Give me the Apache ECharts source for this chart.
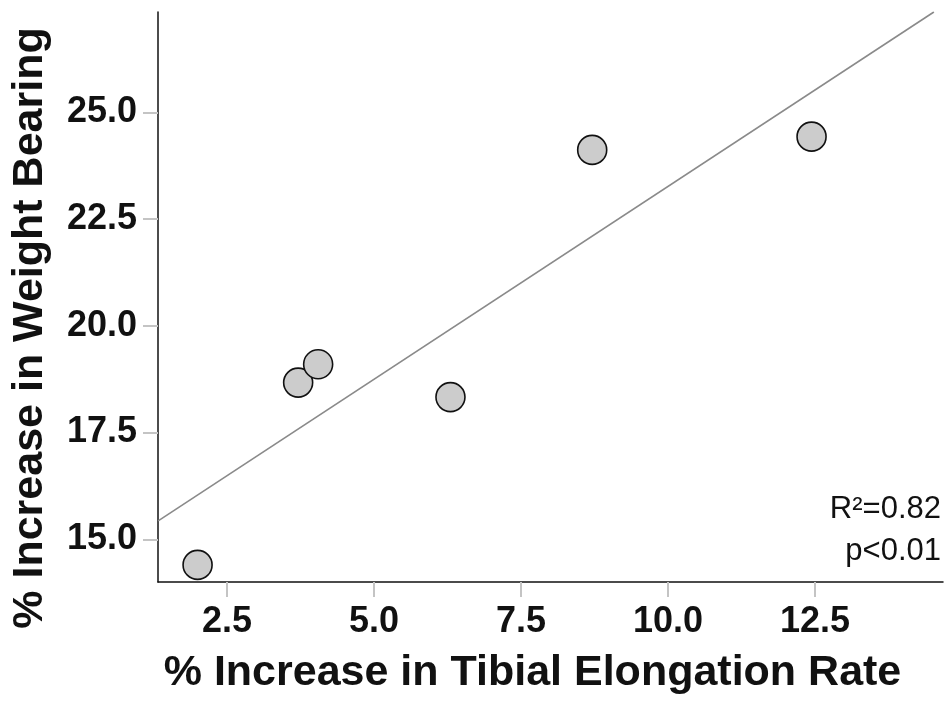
<!DOCTYPE html>
<html>
<head>
<meta charset="utf-8">
<script src="https://cdn.jsdelivr.net/npm/echarts@6/dist/echarts.min.js"></script>
<style>
html,body{margin:0;padding:0;background:#fff;}
#chart{width:947px;height:702px;}
</style>
</head>
<body>
<div id="chart"></div>
<script>
// Data
const elongation = [2.00, 3.71, 4.05, 6.30, 8.71, 12.44];
const weightBearing = [14.40, 18.67, 19.10, 18.33, 24.12, 24.43];
// Fitted line endpoints as drawn in the picture
const fitLineX = [1.33, 14.52];
const fitLineY = [15.43, 27.35];
const xTicks = [2.5, 5.0, 7.5, 10.0, 12.5];
const yTicks = [15.0, 17.5, 20.0, 22.5, 25.0];
const xTitle = '% Increase in Tibial Elongation Rate';
const yTitle = '% Increase in Weight Bearing';
const statR2 = 'R\u00B2=0.82';
const statP = 'p<0.01';

const FONT = '"Liberation Sans", Arial, Helvetica, sans-serif';

const chart = echarts.init(document.getElementById('chart'), null, {renderer: 'canvas'});

const axisCommon = {
  axisLine: {show: true, lineStyle: {color: '#111', width: 1.5}},
  splitLine: {show: false},
};

chart.setOption({
  animation: false,
  backgroundColor: '#ffffff',
  grid: {left: 158, top: 12, right: 4, bottom: 120, containLabel: false, outerBoundsMode: 'none'},
  xAxis: Object.assign({
    type: 'value',
    min: 1.327,
    max: 14.675,
    name: xTitle,
    nameLocation: 'middle',
    nameGap: 70,
    nameTextStyle: {fontFamily: FONT, fontWeight: 'bold', fontSize: 43, color: '#111', padding: [0, 36, 0, 0]},
    axisTick: {show: true, length: 15, lineStyle: {color: '#c4c4c4', width: 2}, customValues: xTicks},
    axisLabel: {
      customValues: xTicks,
      margin: 22,
      fontFamily: FONT, fontWeight: 'bold', fontSize: 36, color: '#111',
      formatter: v => Number(v).toFixed(1)
    }
  }, axisCommon),
  yAxis: Object.assign({
    type: 'value',
    min: 14.0,
    max: 27.35,
    name: yTitle,
    nameLocation: 'middle',
    nameGap: 106,
    nameRotate: 90,
    nameTextStyle: {fontFamily: FONT, fontWeight: 'bold', fontSize: 43, color: '#111', padding: [0, 62, 0, 0]},
    axisTick: {show: true, length: 15, lineStyle: {color: '#c4c4c4', width: 2}, customValues: yTicks},
    axisLabel: {
      customValues: yTicks,
      margin: 21,
      fontFamily: FONT, fontWeight: 'bold', fontSize: 36, color: '#111',
      formatter: v => Number(v).toFixed(1)
    }
  }, axisCommon),
  series: [
    {
      type: 'line',
      data: fitLineX.map((x, i) => [x, fitLineY[i]]),
      symbol: 'none',
      lineStyle: {color: '#8a8a8a', width: 1.6},
      z: 1,
      silent: true
    },
    {
      type: 'scatter',
      data: elongation.map((x, i) => [x, weightBearing[i]]),
      symbol: 'circle',
      symbolSize: 29,
      itemStyle: {color: '#cccccc', borderColor: '#111', borderWidth: 1.6, opacity: 1},
      z: 3
    }
  ],
  graphic: [
    {
      type: 'text', right: 6, top: 494,
      style: {text: statR2, fontFamily: FONT, fontSize: 31, fill: '#111', textAlign: 'right'}
    },
    {
      type: 'text', right: 6, top: 536,
      style: {text: statP, fontFamily: FONT, fontSize: 31, fill: '#111', textAlign: 'right'}
    }
  ]
});
</script>
</body>
</html>
